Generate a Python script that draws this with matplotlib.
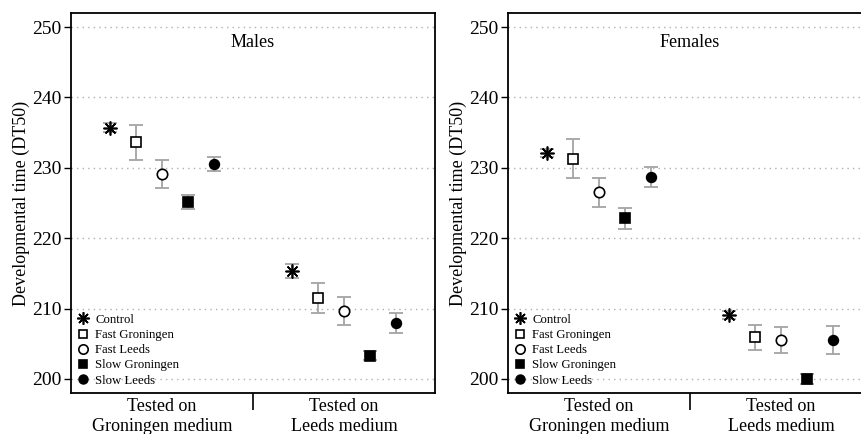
import matplotlib.pyplot as plt
import matplotlib as mpl
import numpy as np

mpl.rcParams["font.family"] = ["Liberation Serif", "DejaVu Serif"]

# ─── data ───────────────────────────────────────────────────────────
LINES = ["Control", "Fast Groningen", "Fast Leeds", "Slow Groningen", "Slow Leeds"]
MEDIA = ["Tested on\nGroningen medium", "Tested on\nLeeds medium"]

# mean DT50 per line, [Groningen medium, Leeds medium]
MALES_MEAN = {
    "Control":        [235.7, 215.4],
    "Fast Groningen": [233.6, 211.5],
    "Fast Leeds":     [229.1, 209.6],
    "Slow Groningen": [225.2, 203.3],
    "Slow Leeds":     [230.5, 207.9],
}
MALES_ERR = {
    "Control":        [0.6, 1.0],
    "Fast Groningen": [2.5, 2.2],
    "Fast Leeds":     [2.0, 2.0],
    "Slow Groningen": [1.0, 0.6],
    "Slow Leeds":     [1.0, 1.4],
}
FEMALES_MEAN = {
    "Control":        [232.1, 209.1],
    "Fast Groningen": [231.3, 205.9],
    "Fast Leeds":     [226.5, 205.6],
    "Slow Groningen": [222.8, 200.0],
    "Slow Leeds":     [228.7, 205.5],
}
FEMALES_ERR = {
    "Control":        [0.6, 0.6],
    "Fast Groningen": [2.8, 1.75],
    "Fast Leeds":     [2.0, 1.85],
    "Slow Groningen": [1.45, 0.7],
    "Slow Leeds":     [1.45, 2.0],
}

STYLE = {
    "Control":        dict(marker=(8, 2, 0), mfc="black", ms=10, mew=1.2),
    "Fast Groningen": dict(marker="s", mfc="white", ms=6.5, mew=1.2),
    "Fast Leeds":     dict(marker="o", mfc="white", ms=7.5, mew=1.2),
    "Slow Groningen": dict(marker="s", mfc="black", ms=6.5, mew=1.2),
    "Slow Leeds":     dict(marker="o", mfc="black", ms=7, mew=1.2),
}

W, H = 861, 434
fig = plt.figure(figsize=(W / 100, H / 100), dpi=100)


def panel(left_px, title, means, errs):
    ax = fig.add_axes([left_px / W, 41 / H, 364 / W, 380 / H])
    x = np.array([1, 2])
    for i, name in enumerate(LINES):
        xs = x + (i - 2) / 7
        ax.errorbar(xs, means[name], yerr=errs[name], fmt="none",
                    ecolor="#a4a4a4", elinewidth=1.3, capsize=5, capthick=1.3, zorder=2)
        ax.plot(xs, means[name], linestyle="none", mec="black", color="black",
                label=name, zorder=3, **STYLE[name])
    ax.set_xlim(0.5, 2.5)
    ax.set_ylim(198, 252)
    ax.set_yticks(range(200, 251, 10))
    ax.tick_params(axis="y", labelsize=14, length=5, width=1, pad=2, direction="out")
    for v in range(200, 251, 10):
        ax.axhline(v, color="#b0b0b0", linestyle=(0, (1, 3)), linewidth=1, zorder=0)
    # separator tick between the two media
    ax.set_xticks([1.5])
    ax.set_xticklabels([""])
    ax.tick_params(axis="x", length=12, width=1.2, direction="out")
    for xi, lab in zip(x, MEDIA):
        ax.text(xi, -0.014, lab, transform=ax.get_xaxis_transform(), ha="center", va="top",
                fontsize=13, linespacing=1.2)
    for s in ax.spines.values():
        s.set_linewidth(1.3)
    ax.set_ylabel("Developmental time (DT50)", fontsize=13)
    ax.yaxis.set_label_coords(-0.112, 0.5)
    ax.text(0.5, 0.922, title, transform=ax.transAxes, ha="center", va="center", fontsize=13)
    ax.legend(loc="lower left", frameon=False, fontsize=9.2, markerscale=0.9,
              handlelength=0.9, handletextpad=0.5, labelspacing=0.25,
              borderaxespad=0.2, borderpad=0.3)
    return ax


panel(71, "Males", MALES_MEAN, MALES_ERR)
panel(508, "Females", FEMALES_MEAN, FEMALES_ERR)

fig.savefig("out.png", dpi=100)
